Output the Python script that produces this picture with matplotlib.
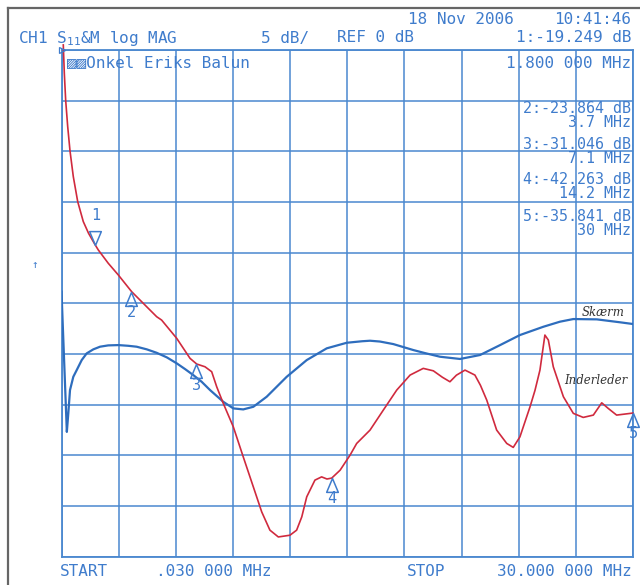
import matplotlib
matplotlib.use("Agg")
import matplotlib.pyplot as plt
from matplotlib.path import Path
import numpy as np

# ---------------- data ----------------
f_start, f_stop = 0.03, 30.0          # MHz
ref_db, db_per_div = 0.0, 5.0

red_f = [0.124, 0.177, 0.25, 0.355, 0.476, 0.649, 0.88, 1.173, 1.45, 1.8, 1.96, 2.48,
         3.01, 3.71, 4.58, 5.022, 5.28, 6.07, 6.77, 7.12, 7.555, 7.906, 8.17, 8.515,
         9.04, 9.56, 10.09, 10.53, 10.96, 11.4, 12.01, 12.36, 12.63, 12.89, 13.32,
         13.67, 13.95, 14.2, 14.64, 15.16, 15.51, 16.21, 16.905, 17.61, 18.31, 19.0,
         19.53, 20.0, 20.4, 20.74, 21.19, 21.71, 22.0, 22.33, 22.85, 23.38, 23.72,
         24.07, 24.6, 24.86, 25.12, 25.38, 25.56, 25.82, 26.35, 26.87, 27.39, 27.92,
         28.36, 28.70, 29.14, 30.0]
red_db = [0.5, -2.28, -4.99, -7.56, -9.96, -12.5, -14.97, -16.94, -18.1, -19.25, -19.74,
          -21.05, -22.21, -23.86, -25.5, -26.33, -26.66, -28.46, -30.44, -31.0, -31.27,
          -31.76, -33.25, -34.89, -37.2, -40.16, -43.13, -45.6, -47.4, -48.07, -47.9,
          -47.4, -46.09, -44.11, -42.46, -42.14, -42.35, -42.26, -41.48, -40.0, -38.84,
          -37.52, -35.55, -33.57, -32.09, -31.43, -31.67, -32.3, -32.75, -32.1, -31.6,
          -32.09, -33.1, -34.56, -37.52, -38.84, -39.23, -38.19, -35.22, -33.6, -31.6,
          -28.14, -28.63, -31.27, -34.23, -35.87, -36.27, -36.04, -34.83, -35.38,
          -36.04, -35.84]

blue_f = [0.03, 0.31, 0.387, 0.476, 0.649, 0.827, 1.09, 1.35, 1.70, 2.05, 2.48, 3.01,
          3.53, 3.97, 4.5, 5.02, 5.55, 6.07, 6.51, 6.94, 7.38, 7.82, 8.515, 9.04, 9.56,
          10.09, 10.79, 11.84, 12.89, 13.94, 14.99, 15.8, 16.21, 16.73, 17.43, 18.48,
          19.09, 19.88, 20.93, 21.98, 23.03, 24.07, 25.3, 26.17, 26.87, 28.1, 29.32, 30.0]
blue_db = [-23.86, -37.7, -35.87, -33.57, -32.26, -31.6, -30.61, -29.95, -29.55, -29.29,
           -29.16, -29.13, -29.2, -29.29, -29.55, -29.89, -30.34, -30.93, -31.5, -32.09,
           -32.75, -33.57, -34.73, -35.38, -35.48, -35.22, -34.23, -32.26, -30.61,
           -29.45, -28.9, -28.75, -28.7, -28.78, -29.03, -29.62, -29.92, -30.28, -30.5,
           -30.11, -29.13, -28.14, -27.32, -26.82, -26.56, -26.59, -26.88, -27.05]

marker_ids = ["1", "2", "3", "4", "5"]
marker_f = [1.8, 3.7, 7.1, 14.2, 30.0]
marker_db = [-19.249, -23.864, -31.046, -42.263, -35.841]
marker_f_text = ["1.800 000 MHz", "3.7 MHz", "7.1 MHz", "14.2 MHz", "30 MHz"]

header_date = "18 Nov 2006"
header_time = "10:41:46"
title_text = "Onkel Eriks Balun"
label_screen = "Skærm"
label_inner = "Inderleder"

# ---------------- style ----------------
GRID = "#4a88cf"
TXT = "#3f7ccc"
RED = "#d02a3e"
BLUE = "#2e6dbd"
MONO = "DejaVu Sans Mono"
FS = 11.5

W, H = 640, 585
fig = plt.figure(figsize=(W / 100, H / 100), dpi=100)
fig.patch.set_facecolor("white")

L, R, T, B = 61.5, 633.0, 50.0, 556.5
ax = fig.add_axes([L / W, 1 - B / H, (R - L) / W, (B - T) / H])
ax.set_xlim(f_start, f_stop)
ax.set_ylim(ref_db - 10 * db_per_div, ref_db)
ax.set_xticks(np.linspace(f_start, f_stop, 11))
ax.set_yticks(np.linspace(ref_db - 10 * db_per_div, ref_db, 11))
ax.tick_params(length=0, labelbottom=False, labelleft=False)
ax.grid(True, color=GRID, lw=1.1)
for s in ax.spines.values():
    s.set_color(GRID)
    s.set_linewidth(1.3)
ax.set_axisbelow(True)

ax.plot(blue_f, blue_db, color=BLUE, lw=1.6, zorder=3, solid_joinstyle="round")
ax.plot(red_f, red_db, color=RED, lw=1.2, zorder=4, clip_on=False,
        solid_joinstyle="round")

# reference-position indicator at the top-left of the graticule
ax.plot([f_start], [ref_db], marker=">", ms=5, mfc="none", mec=TXT, mew=0.9,
        clip_on=False, zorder=5)

# marker triangles (tip at the trace point)
up_tri = Path([(0, 0), (-0.42, -1), (0.42, -1), (0, 0)],
              [Path.MOVETO, Path.LINETO, Path.LINETO, Path.CLOSEPOLY])
down_tri = Path([(0, 0), (-0.42, 1), (0.42, 1), (0, 0)],
                [Path.MOVETO, Path.LINETO, Path.LINETO, Path.CLOSEPOLY])
for i, (mid, mf, md) in enumerate(zip(marker_ids, marker_f, marker_db)):
    if i == 0:
        ax.plot([mf], [md], marker=down_tri, ms=20, mfc="none", mec=TXT, mew=1.1,
                zorder=5, clip_on=False)
        ax.annotate(mid, (mf, md), xytext=(0, 16), textcoords="offset points",
                    ha="center", va="bottom", color=TXT, family=MONO, fontsize=11)
    else:
        ax.plot([mf], [md], marker=up_tri, ms=20, mfc="none", mec=TXT, mew=1.1,
                zorder=5, clip_on=False)
        ax.annotate(mid, (mf, md), xytext=(0, -9.5), textcoords="offset points",
                    ha="center", va="top", color=TXT, family=MONO, fontsize=11)


def ftext(x, y, s, ha="left", **kw):
    kw.setdefault("color", TXT)
    kw.setdefault("family", MONO)
    kw.setdefault("fontsize", FS)
    fig.text(x / W, 1 - y / H, s, ha=ha, va="center", **kw)


# header
ftext(408, 20, header_date)
ftext(631, 20, header_time, ha="right")
ftext(18, 38, r"CH1 S$_{\mathtt{11}}$&M log MAG")
ftext(261, 38, "5 dB/")
ftext(337, 38, "REF 0 dB")
ftext(631, 38, f"{marker_ids[0]}:{marker_db[0]:.3f} dB", ha="right")
ftext(631, 63, marker_f_text[0], ha="right")
ftext(67, 63, "▨▨" + title_text, fontsize=11.5)

# marker readouts (two-line blocks)
rows = [115.5, 151.5, 186.5, 223.5]
for yc, mid, md, mft in zip(rows, marker_ids[1:], marker_db[1:], marker_f_text[1:]):
    fig.text(631 / W, 1 - yc / H, f"{mid}:{md:.3f} dB\n{mft}", ha="right",
             va="center", ma="right", color=TXT, family=MONO, fontsize=10.8,
             linespacing=0.84)

# footer
ftext(60, 571, "START")
ftext(156, 571, ".030 000 MHz")
ftext(407, 571, "STOP")
ftext(632, 571, f"{f_stop:.3f} 000 MHz", ha="right")

# reference arrow at left
ftext(31, 265, "↑", fontsize=8)

# handwritten annotations
ftext(603, 313, label_screen, ha="center", color="#333333", family="DejaVu Serif",
      style="italic", fontsize=8.5)
ftext(596, 380, label_inner, ha="center", color="#333333", family="DejaVu Serif",
      style="italic", fontsize=8.5)

# scan frame
fig.add_artist(plt.Line2D([8 / W, 1], [1 - 8 / H, 1 - 8 / H], color="#666666", lw=1.6,
                          transform=fig.transFigure))
fig.add_artist(plt.Line2D([8 / W, 8 / W], [0, 1 - 8 / H], color="#666666", lw=1.6,
                          transform=fig.transFigure))

fig.savefig("out.png", dpi=100)
